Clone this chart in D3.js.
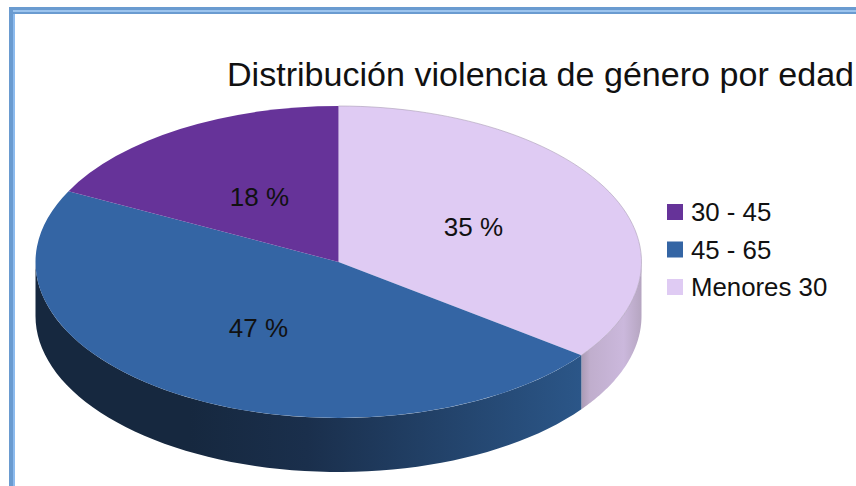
<!DOCTYPE html>
<html>
<head>
<meta charset="utf-8">
<script src="https://cdn.jsdelivr.net/npm/d3@7"></script>
<style>
  html, body { margin: 0; padding: 0; background: #fff; }
  svg { display: block; }
  text { font-family: "Liberation Sans", Arial, sans-serif; fill: #111; }
</style>
</head>
<body>
<svg id="chart" width="856" height="486"></svg>
<script>
const categories = ["Menores 30", "45 - 65", "30 - 45"];
const values = [35.2, 47.3, 17.5];
const legendOrder = ["30 - 45", "45 - 65", "Menores 30"];
const colors = ["#dfcbf3", "#3465a4", "#663399"];
const chartTitle = "Distribución violencia de género por edad";

const width = 856, height = 486;
const cx = 338.5, cy = 262;
const rx = 303, ry = 156, depth = 54;

const svg = d3.select("#chart");
const color = d3.scaleOrdinal().domain(categories).range(colors);

// window frame
svg.append("rect").attr("x", 9).attr("y", 7).attr("width", width - 9).attr("height", 7).attr("fill", "#6a9bd0");
svg.append("rect").attr("x", 13).attr("y", 10).attr("width", width - 13).attr("height", 2).attr("fill", "#9cc4ee");
svg.append("rect").attr("x", 9).attr("y", 7).attr("width", 4).attr("height", height - 7).attr("fill", "#6a9bd0");
svg.append("rect").attr("x", 13).attr("y", 14).attr("width", 2).attr("height", height - 14).attr("fill", "#8dbbee");

const pie = d3.pie().value((d, i) => values[i]).sort(null);
const slices = pie(categories);
const r = 100; // arcs drawn on a unit disc, then squashed
const arc = d3.arc().innerRadius(0).outerRadius(r);

const defs = svg.append("defs");
const blueGrad = defs.append("linearGradient").attr("id", "wallBlue")
  .attr("gradientUnits", "userSpaceOnUse")
  .attr("x1", 190).attr("y1", 0).attr("x2", 581).attr("y2", 0);
blueGrad.append("stop").attr("offset", 0).attr("stop-color", "#16283f");
blueGrad.append("stop").attr("offset", 0.3).attr("stop-color", "#1a2f4c");
blueGrad.append("stop").attr("offset", 1).attr("stop-color", "#2b5688");
const lilacGrad = defs.append("linearGradient").attr("id", "wallLilac")
  .attr("gradientUnits", "userSpaceOnUse")
  .attr("x1", 581).attr("y1", 0).attr("x2", 642).attr("y2", 0);
lilacGrad.append("stop").attr("offset", 0).attr("stop-color", "#a999b3");
lilacGrad.append("stop").attr("offset", 0.15).attr("stop-color", "#c0aecd");
lilacGrad.append("stop").attr("offset", 0.7).attr("stop-color", "#cbb8dc");
lilacGrad.append("stop").attr("offset", 1).attr("stop-color", "#b5a5c0");

const px = a => cx + rx * Math.sin(a);
const py = a => cy - ry * Math.cos(a);

// front wall of the disc: only the part facing the viewer
function wallPath(a0, a1) {
  const from = Math.max(a0, Math.PI / 2), to = Math.min(a1, Math.PI * 1.5);
  if (to <= from) return null;
  const top = d3.range(0, 61).map(i => from + (to - from) * i / 60);
  const pts = top.map(a => [px(a), py(a)])
    .concat(top.slice().reverse().map(a => [px(a), py(a) + depth]));
  return d3.line()(pts) + "Z";
}

const wallFill = { "Menores 30": "url(#wallLilac)", "45 - 65": "url(#wallBlue)", "30 - 45": "#3c1f5c" };
svg.append("g").selectAll("path")
  .data(slices.filter(d => wallPath(d.startAngle, d.endAngle)))
  .join("path")
  .attr("d", d => wallPath(d.startAngle, d.endAngle))
  .attr("fill", d => wallFill[d.data]);

// top face
svg.append("g")
  .attr("transform", `translate(${cx},${cy}) scale(${rx / r},${ry / r})`)
  .selectAll("path")
  .data(slices)
  .join("path")
  .attr("d", arc)
  .attr("fill", d => color(d.data));

// thin outline on the lilac rim
svg.append("path")
  .attr("d", d3.line()(d3.range(0, 61).map(i => {
    const a = slices[0].startAngle + (slices[0].endAngle - slices[0].startAngle) * i / 60;
    return [px(a), py(a)];
  })))
  .attr("fill", "none").attr("stroke", "#a99cb5").attr("stroke-width", 0.6);

// percent labels
const labelPos = { "Menores 30": [473.5, 227], "45 - 65": [258.5, 328], "30 - 45": [259.5, 197] };
svg.append("g").selectAll("text")
  .data(slices)
  .join("text")
  .attr("x", d => labelPos[d.data][0])
  .attr("y", d => labelPos[d.data][1])
  .attr("dy", "0.35em")
  .attr("text-anchor", "middle")
  .attr("font-size", 26)
  .text(d => Math.round(d.value) + " %");

svg.append("text")
  .attr("x", 227).attr("y", 86)
  .attr("font-size", 34.1)
  .text(chartTitle);

// legend
const legendY = d3.scalePoint().domain(legendOrder).range([212, 287]);
const legend = svg.append("g").selectAll("g")
  .data(legendOrder)
  .join("g")
  .attr("transform", d => `translate(667,${legendY(d)})`);
legend.append("rect")
  .attr("y", -8).attr("width", 16).attr("height", 16)
  .attr("fill", d => color(d));
legend.append("text")
  .attr("x", 24).attr("dy", "0.35em")
  .attr("font-size", 25.8)
  .text(d => d);
</script>
</body>
</html>
